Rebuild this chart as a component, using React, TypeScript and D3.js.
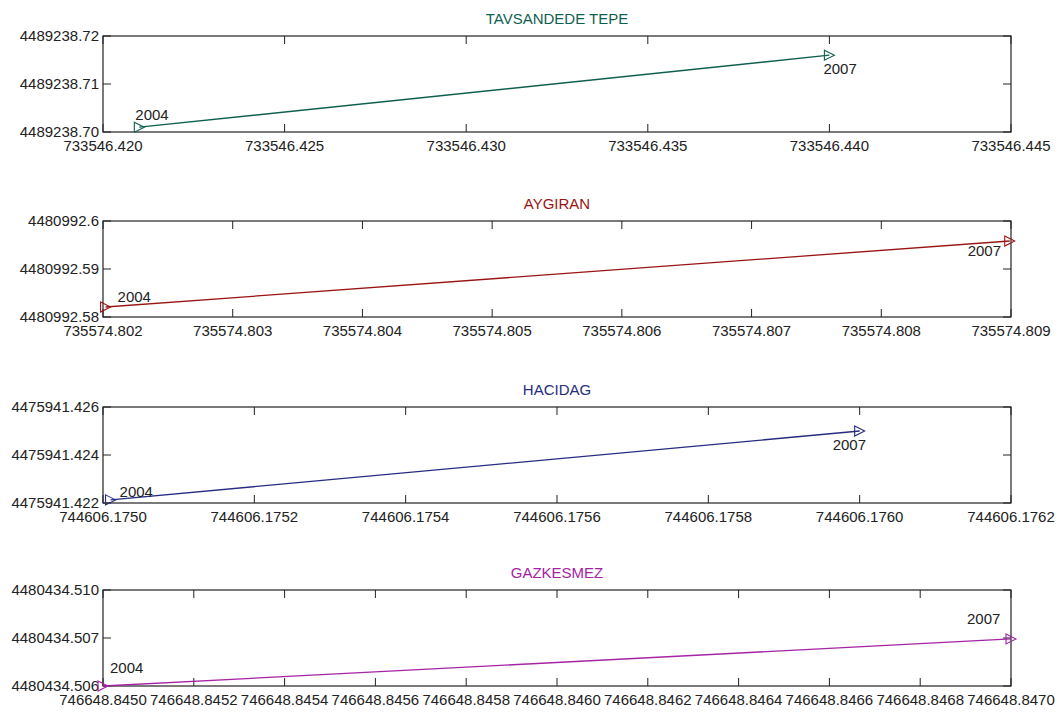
import React from "react";
import * as d3 from "d3";

// Station names and colours
const stations = ["TAVSANDEDE TEPE", "AYGIRAN", "HACIDAG", "GAZKESMEZ"];
const stationColors = ["#0f5f50", "#9a1414", "#262c82", "#a424a4"];
const years = ["2004", "2007"];

// Easting / northing of each station in 2004 and 2007
const eastings = [
  [733546.421, 733546.44],
  [735574.80202, 735574.80899],
  [744606.17501, 744606.176],
  [746648.845, 746648.847],
];
const northings = [
  [4489238.701, 4489238.716],
  [4480992.58208, 4480992.59583],
  [4475941.42213, 4475941.425],
  [4480434.506, 4480434.50698],
];

// Axis ranges
const xDomains = [
  [733546.42, 733546.445],
  [735574.802, 735574.809],
  [744606.175, 744606.1762],
  [746648.845, 746648.847],
];
const yDomains = [
  [4489238.7, 4489238.72],
  [4480992.58, 4480992.6],
  [4475941.422, 4475941.426],
  [4480434.506, 4480434.508],
];

// Tick values and their printed labels
const xTickValues = [
  [733546.42, 733546.425, 733546.43, 733546.435, 733546.44, 733546.445],
  [735574.802, 735574.803, 735574.804, 735574.805, 735574.806, 735574.807, 735574.808, 735574.809],
  [744606.175, 744606.1752, 744606.1754, 744606.1756, 744606.1758, 744606.176, 744606.1762],
  [746648.845, 746648.8452, 746648.8454, 746648.8456, 746648.8458, 746648.846, 746648.8462, 746648.8464, 746648.8466, 746648.8468, 746648.847],
];
const xTickLabels = [
  ["733546.420", "733546.425", "733546.430", "733546.435", "733546.440", "733546.445"],
  ["735574.802", "735574.803", "735574.804", "735574.805", "735574.806", "735574.807", "735574.808", "735574.809"],
  ["744606.1750", "744606.1752", "744606.1754", "744606.1756", "744606.1758", "744606.1760", "744606.1762"],
  ["746648.8450", "746648.8452", "746648.8454", "746648.8456", "746648.8458", "746648.8460", "746648.8462", "746648.8464", "746648.8466", "746648.8468", "746648.8470"],
];
const yTickValues = [
  [4489238.7, 4489238.71, 4489238.72],
  [4480992.58, 4480992.59, 4480992.6],
  [4475941.422, 4475941.424, 4475941.426],
  [4480434.506, 4480434.507, 4480434.508],
];
const yTickLabels = [
  ["4489238.70", "4489238.71", "4489238.72"],
  ["4480992.58", "4480992.59", "4480992.6"],
  ["4475941.422", "4475941.424", "4475941.426"],
  ["4480434.506", "4480434.507", "4480434.510"],
];

// Layout
const W = 1061;
const H = 713;
const LEFT = 103;
const RIGHT = 1011;
const PANEL_H = 96;
const panelTops = [36, 221, 407, 590];
// Year label offsets (dx, dy to baseline) from each point
const yearOffsets = [
  [[-4, -7], [-6, 19]],
  [[12, -5], [-42, 15]],
  [[9, -3], [-27, 19]],
  [[7, -13], [-44, -15]],
];
const FONT = "'Liberation Sans', Arial, sans-serif";
const TICK = 8;

function Panel({ i }: { i: number }) {
  const top = panelTops[i];
  const bottom = top + PANEL_H;
  const x = d3.scaleLinear().domain(xDomains[i]).range([LEFT, RIGHT]);
  const y = d3.scaleLinear().domain(yDomains[i]).range([bottom, top]);
  const color = stationColors[i];
  const pts = eastings[i].map((e, k) => [x(e), y(northings[i][k])] as [number, number]);
  const line = d3.line()(pts) || "";
  const tri = (cx: number, cy: number) =>
    `M${cx - 5},${cy - 5}L${cx + 5},${cy}L${cx - 5},${cy + 5}Z`;

  return (
    <g>
      <text
        x={(LEFT + RIGHT) / 2}
        y={top - 12}
        textAnchor="middle"
        fontSize={15}
        fill={color}
        fontFamily={FONT}
      >
        {stations[i]}
      </text>
      <rect x={LEFT} y={top} width={RIGHT - LEFT} height={PANEL_H} fill="#fff" stroke="#222" strokeWidth={1.2} />
      {xTickValues[i].map((v, k) => (
        <g key={"x" + k}>
          <line x1={x(v)} x2={x(v)} y1={bottom} y2={bottom - TICK} stroke="#222" />
          <line x1={x(v)} x2={x(v)} y1={top} y2={top + TICK} stroke="#222" />
          <text
            x={x(v)}
            y={bottom + 19}
            textAnchor="middle"
            fontSize={15}
            fill="#222"
            fontFamily={FONT}
          >
            {xTickLabels[i][k]}
          </text>
        </g>
      ))}
      {yTickValues[i].map((v, k) => (
        <g key={"y" + k}>
          <line x1={LEFT} x2={LEFT + TICK} y1={y(v)} y2={y(v)} stroke="#222" />
          <line x1={RIGHT} x2={RIGHT - TICK} y1={y(v)} y2={y(v)} stroke="#222" />
          <text
            x={LEFT - 4}
            y={y(v) + 5}
            textAnchor="end"
            fontSize={15}
            fill="#222"
            fontFamily={FONT}
          >
            {yTickLabels[i][k]}
          </text>
        </g>
      ))}
      <path d={line} fill="none" stroke={color} strokeWidth={1.3} />
      {pts.map(([px, py], k) => (
        <g key={"p" + k}>
          <path d={tri(px, py)} fill="none" stroke={color} strokeWidth={1.1} />
          <text
            x={px + yearOffsets[i][k][0]}
            y={py + yearOffsets[i][k][1]}
            fontSize={15}
            fill="#222"
            fontFamily={FONT}
          >
            {years[k]}
          </text>
        </g>
      ))}
    </g>
  );
}

export default function App() {
  return (
    <svg
      width={W}
      height={H}
      style={{ position: "absolute", left: 0, top: 0, background: "#fff" }}
    >
      {stations.map((_, i) => (
        <Panel key={i} i={i} />
      ))}
    </svg>
  );
}
